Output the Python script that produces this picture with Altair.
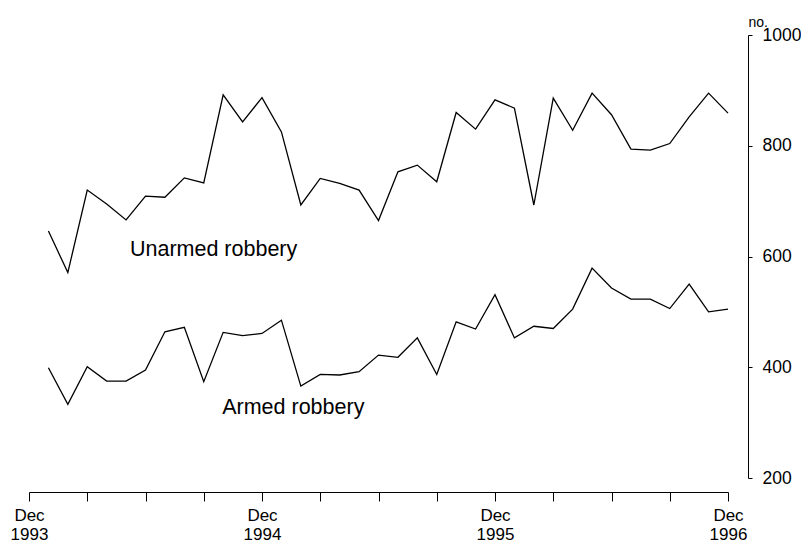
import altair as alt
import pandas as pd

# Months Jan 1994 .. Dec 1996 (index 1..36, Dec 1993 = 0)
months = [
    "Jan 1994", "Feb 1994", "Mar 1994", "Apr 1994", "May 1994", "Jun 1994",
    "Jul 1994", "Aug 1994", "Sep 1994", "Oct 1994", "Nov 1994", "Dec 1994",
    "Jan 1995", "Feb 1995", "Mar 1995", "Apr 1995", "May 1995", "Jun 1995",
    "Jul 1995", "Aug 1995", "Sep 1995", "Oct 1995", "Nov 1995", "Dec 1995",
    "Jan 1996", "Feb 1996", "Mar 1996", "Apr 1996", "May 1996", "Jun 1996",
    "Jul 1996", "Aug 1996", "Sep 1996", "Oct 1996", "Nov 1996", "Dec 1996",
]
unarmed = [
    646, 571, 720, 695, 666, 709, 707, 742, 733, 892, 843, 887,
    825, 693, 741, 732, 720, 665, 753, 765, 735, 860, 830, 883,
    868, 693, 886, 828, 895, 856, 794, 792, 804, 852, 895, 859,
]
armed = [
    399, 333, 401, 375, 375, 395, 464, 472, 374, 463, 457, 461,
    485, 366, 387, 386, 392, 422, 418, 453, 387, 482, 469, 531,
    453, 474, 470, 505, 579, 543, 523, 523, 506, 550, 500, 505,
]
x_ticks = list(range(0, 37, 3))
y_ticks = [200, 400, 600, 800, 1000]
series_names = ["Unarmed robbery", "Armed robbery"]
label_t = [5.2, 9.95]
label_value = [601, 316]

rows = []
for i, m in enumerate(months):
    rows.append({"t": i + 1, "month": m, "series": series_names[0], "value": unarmed[i]})
    rows.append({"t": i + 1, "month": m, "series": series_names[1], "value": armed[i]})
df = pd.DataFrame(rows)
labels_df = pd.DataFrame({"t": label_t, "value": label_value, "label": series_names})

FONT = "Liberation Sans"

x_enc = alt.X(
    "t:Q",
    scale=alt.Scale(domain=[0, 36], nice=False, zero=False),
    axis=alt.Axis(
        values=x_ticks,
        labelExpr="datum.value % 12 == 0 ? ['Dec', toString(1993 + datum.value / 12)] : ''",
        title=None,
        grid=False,
        offset=14,
        tickSize=9,
        tickColor="black",
        domainColor="black",
        labelColor="black",
        labelFont=FONT,
        labelFontSize=17,
        labelLineHeight=19,
        labelPadding=6,
        labelFlush=False,
        labelOverlap=False,
    ),
)
y_enc = alt.Y(
    "value:Q",
    scale=alt.Scale(domain=[200, 1000], nice=False, zero=False),
    axis=alt.Axis(
        orient="right",
        values=y_ticks,
        format="d",
        title="no.",
        titleAngle=0,
        titleAlign="left",
        titleBaseline="alphabetic",
        titleX=0,
        titleY=-9,
        titleFont=FONT,
        titleFontSize=14,
        titleFontWeight="normal",
        titleColor="black",
        grid=False,
        offset=20,
        tickSize=4,
        tickColor="black",
        domainColor="black",
        labelColor="black",
        labelFont=FONT,
        labelFontSize=17.5,
        labelPadding=10,
    ),
)

lines = alt.Chart(df).mark_line(color="black", strokeWidth=1.3).encode(
    x=x_enc, y=y_enc, detail="series:N"
)
texts = alt.Chart(labels_df).mark_text(
    align="left", baseline="alphabetic", font=FONT, fontSize=21.5, color="black"
).encode(x=x_enc, y=y_enc, text="label:N")

chart = alt.layer(lines, texts).properties(
    width=699,
    height=443,
    autosize=alt.AutoSizeParams(type="none"),
    padding={"left": 21, "top": 27, "right": 73, "bottom": 66},
    background="white",
).configure_view(stroke=None)

chart.save("out.html", embed_options={"renderer": "svg", "actions": False})
